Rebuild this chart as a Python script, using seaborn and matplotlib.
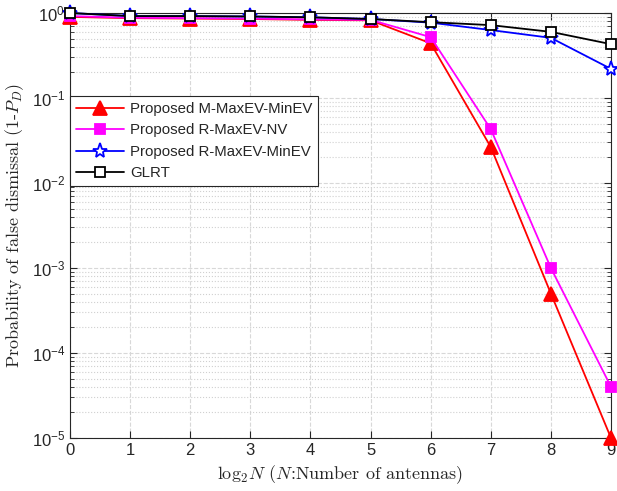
import numpy as np
import pandas as pd
import seaborn as sns
import matplotlib
matplotlib.use("Agg")
from matplotlib import pyplot as plt
from matplotlib.ticker import LogLocator, NullFormatter

# data
log2n = [0, 1, 2, 3, 4, 5, 6, 7, 8, 9]
m_maxev_minev = [0.90, 0.87, 0.86, 0.85, 0.83, 0.82, 0.44, 0.0265, 5.0e-4, 1.0e-5]
r_maxev_nv = [0.92, 0.88, 0.87, 0.86, 0.84, 0.83, 0.52, 0.043, 1.0e-3, 4.0e-5]
r_maxev_minev = [1.0, 0.92, 0.92, 0.91, 0.89, 0.85, 0.77, 0.63, 0.51, 0.22]
glrt = [1.0, 0.92, 0.92, 0.91, 0.89, 0.85, 0.78, 0.72, 0.60, 0.43]

names = ["Proposed M-MaxEV-MinEV", "Proposed R-MaxEV-NV",
         "Proposed R-MaxEV-MinEV", "GLRT"]
series = [m_maxev_minev, r_maxev_nv, r_maxev_minev, glrt]

sns.set_style("ticks")
plt.rcParams["font.family"] = ["Liberation Sans", "DejaVu Sans"]
plt.rcParams["mathtext.fontset"] = "cm"

fig = plt.figure(figsize=(6.17, 4.91), dpi=100)
ax = fig.add_axes([70 / 617, 1 - 438 / 491, 541 / 617, 425 / 491])

styles = [
    dict(color="red", marker="^", markersize=10, markerfacecolor="red"),
    dict(color="magenta", marker="s", markersize=7, markerfacecolor="magenta"),
    dict(color="blue", marker="*", markersize=11, markerfacecolor="white"),
    dict(color="black", marker="s", markersize=7, markerfacecolor="white"),
]

for name, vals, st in zip(names, series, styles):
    df = pd.DataFrame({"x": log2n, "y": vals})
    sns.lineplot(data=df, x="x", y="y", ax=ax, label=name, linewidth=1.3,
                 markeredgecolor=st["color"], markeredgewidth=1.3,
                 color=st["color"], marker=st["marker"],
                 markersize=st["markersize"],
                 markerfacecolor=st["markerfacecolor"], clip_on=False,
                 zorder=3)

ax.set_yscale("log")
ax.set_xlim(0, 9)
ax.set_ylim(1e-5, 1)
ax.set_xticks(range(10))
ax.yaxis.set_major_locator(LogLocator(base=10, numticks=10))
ax.yaxis.set_minor_locator(LogLocator(base=10, subs=np.arange(2, 10), numticks=20))
ax.yaxis.set_minor_formatter(NullFormatter())
ax.tick_params(direction="in", which="both", labelsize=12, top=True, right=True)
ax.tick_params(which="major", length=5)
ax.tick_params(which="minor", length=3)
ax.grid(True, which="major", linestyle="--", color="#d8d8d8", linewidth=0.8)
ax.grid(True, which="minor", axis="y", linestyle=":", color="#d0d0d0", linewidth=0.8)
for s in ax.spines.values():
    s.set_linewidth(0.8)
    s.set_color("#262626")

# serif labels like LaTeX
ax.set_xlabel(r"$\mathrm{log}_2N$ ($N$:Number of antennas)", fontsize=13,
              family=["cmr10", "DejaVu Serif"])
ax.set_ylabel(r"Probability of false dismissal (1-$P_D$)", fontsize=13,
              family=["cmr10", "DejaVu Serif"])

leg = ax.legend(loc="upper left", bbox_to_anchor=(0, 0.805), fontsize=10.8,
                fancybox=False, framealpha=1, edgecolor="#262626",
                borderpad=0.4, labelspacing=0.5, handlelength=3.2,
                handletextpad=0.4, borderaxespad=0)
leg.get_frame().set_linewidth(0.8)

fig.savefig("out.png", dpi=100)
